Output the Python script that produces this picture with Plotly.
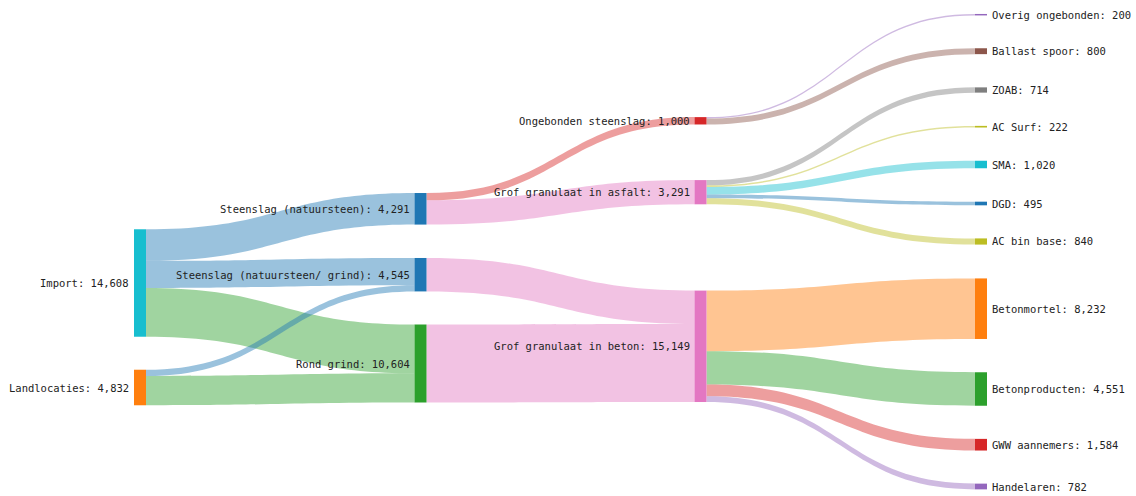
import plotly.graph_objects as go

# ---- data ----
node_names = [
    "Import", "Landlocaties",
    "Steenslag (natuursteen)", "Steenslag (natuursteen/ grind)", "Rond grind",
    "Ongebonden steenslag", "Grof granulaat in asfalt", "Grof granulaat in beton",
    "Overig ongebonden", "Ballast spoor", "ZOAB", "AC Surf", "SMA", "DGD", "AC bin base",
    "Betonmortel", "Betonproducten", "GWW aannemers", "Handelaren",
]
link_source = [0, 0, 0, 1, 1, 2, 2, 3, 4, 5, 5, 6, 6, 6, 6, 6, 7, 7, 7, 7]
link_target = [2, 3, 4, 3, 4, 5, 6, 7, 7, 8, 9, 10, 11, 12, 13, 14, 15, 16, 17, 18]
link_value = [4291, 3695, 6622, 850, 3982, 1000, 3291, 4545, 10604, 200, 800,
              714, 222, 1020, 495, 840, 8232, 4551, 1584, 782]

# ---- styles / layout ----
node_colors = [
    "#17becf", "#ff7f0e",
    "#1f77b4", "#1f77b4", "#2ca02c",
    "#d62728", "#e377c2", "#e377c2",
    "#9467bd", "#8c564b", "#7f7f7f", "#bcbd22", "#17becf", "#1f77b4", "#bcbd22",
    "#ff7f0e", "#2ca02c", "#d62728", "#9467bd",
]
W, H = 1136, 496
col_px = [140, 420.5, 700.5, 981]
node_col = [0, 0, 1, 1, 1, 2, 2, 2, 3, 3, 3, 3, 3, 3, 3, 3, 3, 3, 3]
node_cy_px = [283, 387.5, 208.8, 274.7, 363.5, 120.8, 192.2, 346.3,
              14.7, 51.2, 90, 126.7, 164.5, 203.5, 241.5, 308.7, 389, 444.7, 486.5]
thickness = 12
pad = 28
# sankey drawing band (px) chosen so that node sizes match the reference scale
band_h = 423.0
band_top = (H - band_h) / 2


def hex_rgba(h, a):
    h = h.lstrip("#")
    return "rgba(%d,%d,%d,%.2f)" % (int(h[0:2], 16), int(h[2:4], 16), int(h[4:6], 16), a)


link_colors = [hex_rgba(node_colors[t], 0.45) for t in link_target]

# node totals
n = len(node_names)
inflow = [0] * n
outflow = [0] * n
for s, t, v in zip(link_source, link_target, link_value):
    outflow[s] += v
    inflow[t] += v
node_values = [max(a, b) for a, b in zip(inflow, outflow)]

node_x = [col_px[c] / W for c in node_col]
node_y = [(y - band_top) / band_h for y in node_cy_px]

fig = go.Figure(go.Sankey(
    arrangement="fixed",
    domain=dict(x=[0, 1], y=[band_top / H, 1 - band_top / H]),
    node=dict(
        label=[""] * n,
        customdata=node_names,
        hovertemplate="%{customdata}: %{value:,}<extra></extra>",
        color=node_colors,
        x=node_x,
        y=node_y,
        pad=pad,
        thickness=thickness,
        line=dict(width=0),
    ),
    link=dict(
        source=link_source,
        target=link_target,
        value=link_value,
        color=link_colors,
        customdata=[node_names[s] + " → " + node_names[t] for s, t in zip(link_source, link_target)],
        hovertemplate="%{customdata}: %{value:,}<extra></extra>",
    ),
))

annotations = []
for i in range(n):
    label = "%s: %s" % (node_names[i], format(node_values[i], ","))
    cx = col_px[node_col[i]]
    if node_col[i] == 3:
        ax, anchor = (cx + thickness / 2 + 3) / W, "left"
    else:
        ax, anchor = (cx - thickness / 2 - 3) / W, "right"
    annotations.append(dict(
        x=ax, y=1 - node_cy_px[i] / H, xref="paper", yref="paper",
        text=label, showarrow=False, xanchor=anchor, yanchor="middle",
        font=dict(family="DejaVu Sans Mono", size=10.5, color="#222222"),
    ))

fig.update_layout(
    width=W, height=H,
    margin=dict(l=0, r=0, t=0, b=0),
    paper_bgcolor="white", plot_bgcolor="white",
    annotations=annotations,
)
fig.write_html("out.html", config={"displayModeBar": False},
               post_script="document.body.style.margin='0px';")
